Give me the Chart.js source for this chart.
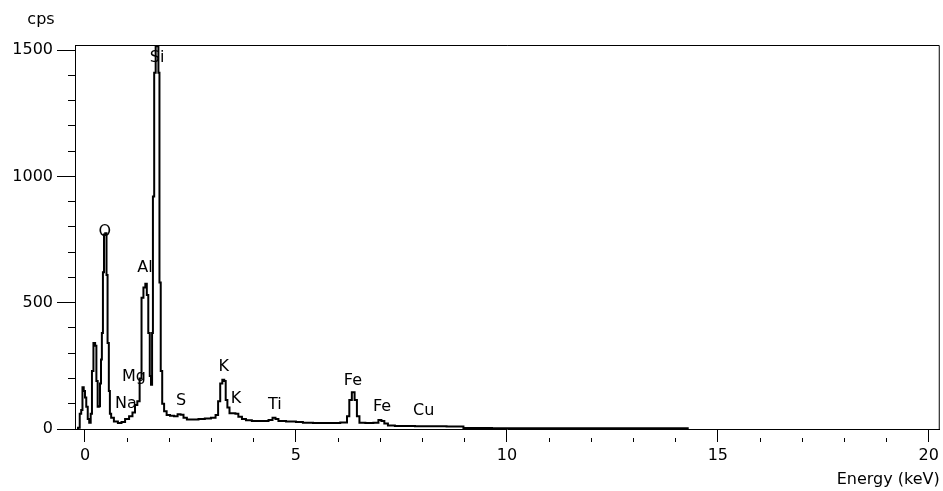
<!DOCTYPE html>
<html>
<head>
<meta charset="utf-8">
<script src="https://cdn.jsdelivr.net/npm/chart.js@4.4.0/dist/chart.umd.min.js"></script>
<style>
  html, body { margin: 0; padding: 0; background: #fff; }
  #wrap { width: 943px; height: 491px; position: relative; }
</style>
</head>
<body>
<div id="wrap"><canvas id="spectrum"></canvas></div>
<script>
const energy = [-0.19, -0.14, -0.11, -0.07, -0.05, -0.01, 0.01, 0.05, 0.08, 0.12, 0.15, 0.18, 0.22, 0.26, 0.28, 0.32, 0.34, 0.37, 0.39, 0.41,
	0.44, 0.46, 0.50, 0.52, 0.55, 0.58, 0.60, 0.64, 0.73, 0.83, 0.90, 1.00, 1.09, 1.16, 1.21, 1.27, 1.32, 1.36, 1.41, 1.45,
	1.48, 1.52, 1.55, 1.58, 1.60, 1.62, 1.66, 1.69, 1.73, 1.75, 1.78, 1.81, 1.85, 1.90, 1.97, 2.06, 2.16, 2.23, 2.30, 2.37,
	2.46, 2.61, 2.77, 2.91, 3.06, 3.13, 3.18, 3.23, 3.28, 3.32, 3.35, 3.40, 3.45, 3.53, 3.60, 3.67, 3.77, 3.86, 4.05, 4.29,
	4.41, 4.48, 4.55, 4.62, 4.91, 5.09, 5.24, 5.57, 5.92, 6.18, 6.24, 6.29, 6.36, 6.42, 6.47, 6.54, 6.75, 6.92, 6.99, 7.06,
	7.13, 7.23, 7.46, 8.18, 8.96, 8.98, 10.31, 12.2, 14.31]
const counts = [0, 5, 60, 75, 165, 150, 125, 88, 40, 25, 60, 230, 340, 330, 190, 88, 90, 180, 275, 380,
	620, 770, 775, 610, 340, 150, 60, 45, 30, 24, 28, 40, 50, 65, 95, 110, 200, 520, 560, 575,
	530, 380, 210, 175, 380, 920, 1410, 1515, 1515, 1410, 580, 230, 100, 70, 55, 52, 50, 58, 56, 45,
	38, 38, 40, 42, 45, 55, 110, 180, 195, 190, 115, 85, 62, 62, 60, 48, 40, 35, 32, 32,
	36, 45, 40, 32, 30, 28, 25, 24, 24, 26, 50, 115, 145, 115, 50, 25, 24, 25, 36, 32,
	22, 14, 12, 11, 10, 4, 3, 3, 3]
const xTicks = [0, 5, 10, 15, 20]
const yTicks = [0, 500, 1000, 1500]
const peakNames = ['O', 'Na', 'Mg', 'Al', 'Si', 'S', 'K', 'K', 'Ti', 'Fe', 'Fe', 'Cu']
const peakEnergy = [0.47, 0.97, 1.16, 1.42, 1.71, 2.28, 3.29, 3.58, 4.50, 6.35, 7.04, 8.03]
const peakCps = [780, 99, 206, 637, 1468, 111, 245, 119, 95, 191, 87, 71]

const font = { family: 'DejaVu Sans', size: 16 }
const fontStr = '16px "DejaVu Sans"'

// every whole step between first and last labelled tick, labels only on the major ones
const stepTicks = (first, last, step) => (scale) => {
	const list = []
	for (let v = first; v <= last; v += step) list.push({ value: v })
	scale.ticks = list
}

const decorations = {
	id: 'decorations',
	afterDraw(chart) {
		const ctx = chart.ctx
		const area = chart.chartArea
		const x = chart.scales.x
		const y = chart.scales.y
		ctx.save()
		ctx.strokeStyle = '#000'
		ctx.lineWidth = 1
		ctx.beginPath()
		ctx.moveTo(area.left, area.top + 0.5)
		ctx.lineTo(area.right - 0.5, area.top + 0.5)
		ctx.lineTo(area.right - 0.5, area.bottom)
		ctx.stroke()

		ctx.fillStyle = '#000'
		ctx.font = fontStr
		ctx.textAlign = 'center'
		ctx.textBaseline = 'alphabetic'
		ctx.fillText('cps', 41, 24)
		ctx.textAlign = 'right'
		ctx.fillText('Energy (keV)', area.right, 484)

		ctx.textAlign = 'center'
		ctx.textBaseline = 'middle'
		peakNames.forEach((name, i) => {
			ctx.fillText(name, x.getPixelForValue(peakEnergy[i]), y.getPixelForValue(peakCps[i]))
		})
		ctx.restore()
	}
}

new Chart(document.getElementById('spectrum').getContext('2d'), {
	type: 'line',
	data: {
		datasets: [{
			data: energy.map((e, i) => ({ x: e, y: counts[i] })),
			borderColor: '#000',
			borderWidth: 2,
			pointRadius: 0,
			stepped: 'middle',
			fill: false
		}]
	},
	options: {
		responsive: true,
		maintainAspectRatio: false,
		animation: false,
		layout: { padding: { top: 45, right: 3, left: 0, bottom: 0 } },
		plugins: { legend: { display: false }, tooltip: { enabled: false } },
		scales: {
			x: {
				type: 'linear',
				min: -0.237,
				max: 20.26,
				afterBuildTicks: stepTicks(0, 20, 1),
				afterFit: (s) => { s.height = 62 },
				border: { display: true, color: '#000', width: 1 },
				grid: {
					drawOnChartArea: false,
					tickLength: 13,
					tickColor: '#000',
					tickWidth: 1,
					tickBorderDash: (c) => xTicks.includes(c.tick && c.tick.value) ? [] : [0, 8, 5, 100]
				},
				ticks: {
					autoSkip: false,
					maxRotation: 0,
					padding: 4,
					color: '#000',
					font: font,
					callback: (v) => xTicks.includes(v) ? String(v) : ''
				}
			},
			y: {
				min: 0,
				max: 1520,
				afterBuildTicks: stepTicks(0, 1500, 100),
				afterFit: (s) => { s.width = 75 },
				border: { display: true, color: '#000', width: 1 },
				grid: {
					drawOnChartArea: false,
					tickLength: 18,
					tickColor: '#000',
					tickWidth: 1,
					tickBorderDash: (c) => yTicks.includes(c.tick && c.tick.value) ? [] : [0, 11, 7, 100]
				},
				ticks: {
					autoSkip: false,
					padding: 4,
					color: '#000',
					font: font,
					callback: (v) => yTicks.includes(v) ? String(v) : ''
				}
			}
		}
	},
	plugins: [decorations]
})
</script>
</body>
</html>
